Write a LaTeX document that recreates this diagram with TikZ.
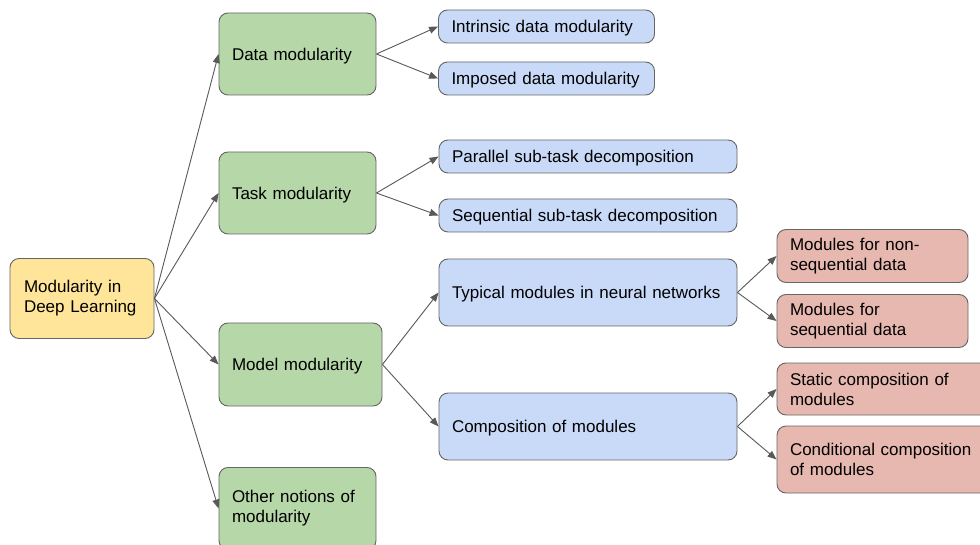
\documentclass[tikz,border=0pt]{standalone}
\usepackage{fontspec}
\setmainfont{Liberation Sans}
\usetikzlibrary{arrows.meta}
\definecolor{rootfill}{HTML}{FFE599}
\definecolor{greenfill}{HTML}{B6D7A8}
\definecolor{bluefill}{HTML}{C9DAF8}
\definecolor{redfill}{HTML}{E6B8AF}
\definecolor{edgegray}{HTML}{666666}
\definecolor{arrowgray}{HTML}{595959}
\tikzset{
  box/.style={draw=edgegray, line width=0.9pt, rounded corners=9pt, align=left,
    inner xsep=13pt, inner ysep=0pt, font=\fontsize{17}{20}\selectfont},
  oneline/.style={text depth=0pt},
  rootbox/.style={box, fill=rootfill},
  topicbox/.style={box, fill=greenfill},
  subbox/.style={box, fill=bluefill},
  leafbox/.style={box, fill=redfill},
  link/.style={draw=arrowgray, line width=0.9pt, -{Triangle[length=9pt,width=7pt]}}
}
\begin{document}
\begin{tikzpicture}[x=1pt, y=-1pt]
\useasboundingbox (0,0) rectangle (980,545);
\clip (0,0) rectangle (980,545);
\fill[white] (0,0) rectangle (980,545);

% root
\node[rootbox, minimum width=144pt, minimum height=80pt, text width=116pt] (root) at (82,298.5) {Modularity in\\Deep Learning};

% first level
\node[topicbox, oneline, minimum width=157pt, minimum height=82pt, text width=131pt] (data) at (297.5,54) {Data modularity};
\node[topicbox, oneline, minimum width=157pt, minimum height=82pt, text width=131pt] (task) at (297.5,193) {Task modularity};
\node[topicbox, oneline, minimum width=163pt, minimum height=83pt, text width=137pt] (model) at (300.5,364.5) {Model modularity};
\node[topicbox, minimum width=157pt, minimum height=82pt, text width=131pt] (other) at (297.5,508.5) {Other notions of\\modularity};

% second level
\node[subbox, oneline, minimum width=215pt, minimum height=33pt, text width=190pt] (intr) at (546.5,26.5) {Intrinsic data modularity};
\node[subbox, oneline, minimum width=215pt, minimum height=33pt, text width=190pt] (impo) at (546.5,78.5) {Imposed data modularity};
\node[subbox, oneline, minimum width=298pt, minimum height=33pt, text width=272pt] (para) at (588,156.5) {Parallel sub-task decomposition};
\node[subbox, oneline, minimum width=298pt, minimum height=33pt, text width=272pt] (sequ) at (588,215.5) {Sequential sub-task decomposition};
\node[subbox, oneline, minimum width=298pt, minimum height=67pt, text width=272pt] (typi) at (588,292.5) {Typical modules in neural networks};
\node[subbox, oneline, minimum width=298pt, minimum height=67pt, text width=272pt] (comp) at (588,426.5) {Composition of modules};

% third level
\node[leafbox, minimum width=191pt, minimum height=53pt, text width=165pt] (nonseq) at (872.5,256) {Modules for non-\\sequential data};
\node[leafbox, minimum width=191pt, minimum height=53pt, text width=165pt] (seqd) at (872.5,321) {Modules for\\sequential data};
\node[leafbox, minimum width=225pt, minimum height=52pt, text width=199pt] (stat) at (889.5,389) {Static composition of\\modules};
\node[leafbox, minimum width=225pt, minimum height=67pt, text width=199pt] (cond) at (889.5,459.5) {Conditional composition\\of modules};

% connectors
\foreach \t in {data,task,model,other} \draw[link] (root.east) -- (\t.west);
\draw[link] (data.east) -- (intr.west);
\draw[link] (data.east) -- (impo.west);
\draw[link] (task.east) -- (para.west);
\draw[link] (task.east) -- (sequ.west);
\draw[link] (model.east) -- (typi.west);
\draw[link] (model.east) -- (comp.west);
\draw[link] (typi.east) -- (nonseq.west);
\draw[link] (typi.east) -- (seqd.west);
\draw[link] (comp.east) -- (stat.west);
\draw[link] (comp.east) -- (cond.west);
\end{tikzpicture}
\end{document}
